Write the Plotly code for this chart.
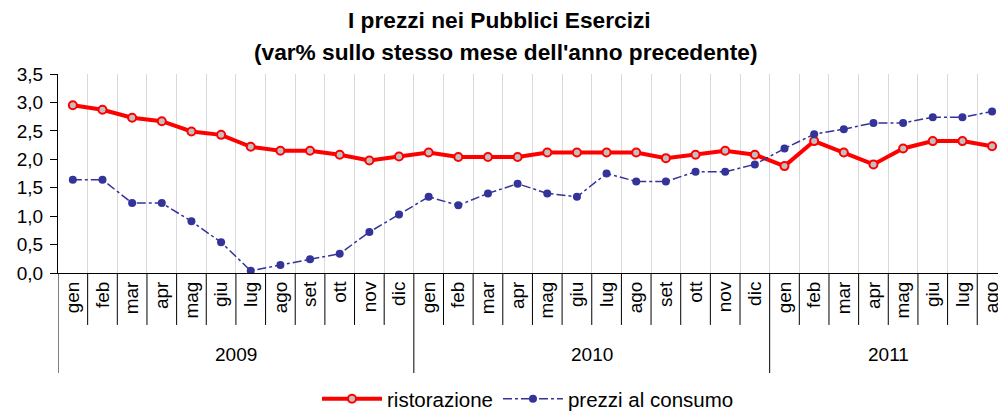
import plotly.graph_objects as go

years = ["2009"] * 12 + ["2010"] * 12 + ["2011"] * 8
months = ["gen", "feb", "mar", "apr", "mag", "giu", "lug", "ago", "set", "ott", "nov", "dic"] * 2 + \
         ["gen", "feb", "mar", "apr", "mag", "giu", "lug", "ago"]
ristorazione = [2.95, 2.87, 2.73, 2.67, 2.49, 2.43, 2.22, 2.15, 2.15, 2.08, 1.98, 2.05,
                2.12, 2.04, 2.04, 2.04, 2.12, 2.12, 2.12, 2.12, 2.02, 2.08, 2.15, 2.08,
                1.88, 2.32, 2.12, 1.91, 2.19, 2.32, 2.32, 2.23]
consumo = [1.64, 1.64, 1.23, 1.23, 0.91, 0.54, 0.04, 0.14, 0.24, 0.34, 0.72, 1.03,
           1.34, 1.19, 1.40, 1.57, 1.40, 1.34, 1.75, 1.61, 1.61, 1.78, 1.78, 1.91,
           2.19, 2.44, 2.53, 2.64, 2.64, 2.74, 2.74, 2.84]
yticks = [0, 0.5, 1.0, 1.5, 2.0, 2.5, 3.0, 3.5]

cats = [f"{m} {y}" for m, y in zip(months, years)]
FONT = "Liberation Sans, Arial, sans-serif"

fig = go.Figure()
fig.add_trace(go.Scatter(
    x=cats, y=ristorazione, name="ristorazione", mode="lines+markers",
    line=dict(color="#ff0000", width=4),
    marker=dict(symbol="circle", size=8, color="#c0c0c0", line=dict(color="#ff0000", width=2)),
))
fig.add_trace(go.Scatter(
    x=cats, y=consumo, name="prezzi al consumo", mode="lines+markers",
    line=dict(color="#333399", width=1.5, dash="dashdot"),
    marker=dict(symbol="circle", size=8, color="#333399"),
))

# category separators (short for months, long for year groups) and year labels
shapes = []
annotations = []
year_list = []
for i, y in enumerate(years):
    start = (i == 0) or (years[i - 1] != y)
    if start:
        year_list.append(y)
    shapes.append(dict(type="line", xref="x", yref="paper", x0=i - 0.5, x1=i - 0.5,
                       y0=0, y1=-0.5025 if start else -0.261,
                       line=dict(color="black", width=1)))
for y in year_list:
    idx = [i for i, yy in enumerate(years) if yy == y]
    annotations.append(dict(text=y, xref="x", yref="paper", x=sum(idx) / len(idx), y=-0.412,
                            showarrow=False, font=dict(size=19, color="black", family=FONT),
                            xanchor="center", yanchor="middle"))

annotations.append(dict(text="<b>I prezzi nei Pubblici Esercizi</b>", xref="paper", yref="paper",
                        x=0.470, y=1.2714, showarrow=False, xanchor="center", yanchor="middle",
                        font=dict(size=22.7, color="black", family=FONT)))
annotations.append(dict(text="<b>(var% sullo stesso mese dell'anno precedente)</b>", xref="paper", yref="paper",
                        x=0.476, y=1.1106, showarrow=False, xanchor="center", yanchor="middle",
                        font=dict(size=22.7, color="black", family=FONT)))

fig.update_layout(
    width=998, height=412,
    margin=dict(l=58, r=0, t=74, b=139, pad=0, autoexpand=False),
    paper_bgcolor="white", plot_bgcolor="white",
    separators=",.",
    font=dict(family=FONT, color="black"),
    showlegend=True,
    legend=dict(orientation="h", xref="paper", x=0.5, xanchor="center",
                yref="container", y=13 / 412, yanchor="middle",
                font=dict(size=20.5, color="black", family=FONT),
                itemwidth=60, tracegroupgap=0),
    shapes=shapes,
    annotations=annotations,
)
fig.update_xaxes(
    type="category", range=[-0.5, 31.2], automargin=False,
    tickmode="array", tickvals=cats, ticktext=months,
    tickson="boundaries", ticks="",
    tickangle=-90,
    tickfont=dict(size=19, color="black", family=FONT),
    showline=True, linecolor="black", linewidth=1,
    showgrid=True, gridcolor="#d9d9d9", gridwidth=1,
    zeroline=False, fixedrange=True,
)
fig.update_yaxes(
    range=[0, 3.5], tickmode="array", tickvals=yticks, tickformat=".1f", automargin=False,
    ticks="outside", ticklen=7, tickcolor="black", ticklabelstandoff=3,
    tickfont=dict(size=19, color="black", family=FONT),
    showline=True, linecolor="black", linewidth=1,
    showgrid=False, zeroline=False, fixedrange=True,
)

fig.write_html("out.html", config={"displayModeBar": False},
               post_script="document.body.style.margin='0px';")
